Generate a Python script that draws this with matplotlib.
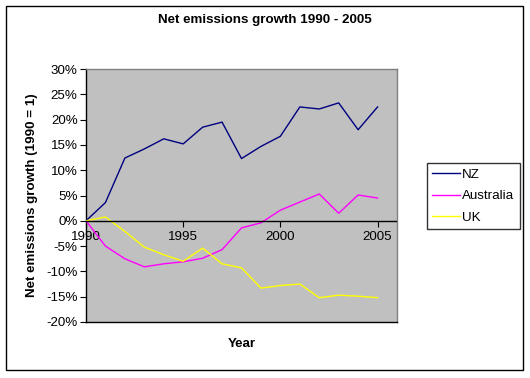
import matplotlib
matplotlib.use('Agg')
import matplotlib.pyplot as plt
from matplotlib.patches import Rectangle
from matplotlib.ticker import FuncFormatter

plt.rcParams['font.family'] = ['Liberation Sans', 'DejaVu Sans']

# Data (growth relative to 1990, in %)
years = [1990, 1991, 1992, 1993, 1994, 1995, 1996, 1997, 1998, 1999,
         2000, 2001, 2002, 2003, 2004, 2005]
nz = [0.0, 3.6, 12.4, 14.2, 16.2, 15.2, 18.5, 19.5, 12.3, 14.7,
      16.7, 22.5, 22.1, 23.3, 18.0, 22.5]
australia = [0.0, -5.0, -7.5, -9.1, -8.5, -8.1, -7.4, -5.7, -1.4, -0.4,
             2.1, 3.7, 5.3, 1.5, 5.1, 4.5]
uk = [0.0, 0.75, -2.1, -5.2, -6.7, -8.0, -5.4, -8.5, -9.3, -13.3,
      -12.8, -12.5, -15.2, -14.7, -14.9, -15.2]
series_names = ['NZ', 'Australia', 'UK']
series_colors = ['#000080', '#FF00FF', '#FFFF00']
year_ticks = [1990, 1995, 2000, 2005]
pct_ticks = [-20, -15, -10, -5, 0, 5, 10, 15, 20, 25, 30]

W, H = 530, 378
fig = plt.figure(figsize=(W / 100, H / 100), dpi=100)
fig.patch.set_facecolor('white')

# plot area in pixels: x 86..397, y 69..322
ax = fig.add_axes([86 / W, 1 - 322 / H, (397 - 86) / W, (322 - 69) / H])
ax.set_facecolor('#C0C0C0')

for vals, name, col in zip([nz, australia, uk], series_names, series_colors):
    ax.plot(years, vals, color=col, lw=1.0, label=name, zorder=3)

ax.set_xlim(1990, 2006)
ax.set_ylim(-20, 30)
ax.set_yticks(pct_ticks)
ax.yaxis.set_major_formatter(FuncFormatter(lambda v, p: f'{v:.0f}%'))
ax.tick_params(axis='y', direction='out', length=4, width=0.8,
               labelsize=9.6, pad=2, colors='black')
ax.set_xticks([])

for s in ['top', 'right']:
    ax.spines[s].set_color('#808080')
ax.spines['left'].set_color('black')
ax.spines['bottom'].set_color('black')
for s in ax.spines.values():
    s.set_linewidth(1.0)

# category axis drawn through zero
ax.axhline(0, color='black', lw=1.0, zorder=4)
sec = ax.secondary_xaxis(0.4)
sec.set_xticks(year_ticks)
sec.set_xticklabels([str(y) for y in year_ticks])
sec.spines['bottom'].set_visible(False)
sec.tick_params(direction='out', length=4, width=0.8, labelsize=9.6, pad=3)

ax.set_ylabel('Net emissions growth (1990 = 1)', fontsize=9.6, fontweight='bold')
ax.yaxis.set_label_coords(-0.155, 0.5)
ax.set_xlabel('Year', fontsize=9.6, fontweight='bold')
ax.xaxis.set_label_coords(0.5, -0.065)

fig.text(265 / W, 1 - 20 / H, 'Net emissions growth 1990 - 2005',
         ha='center', va='center', fontsize=9.6, fontweight='bold')

leg = fig.legend(loc='upper left', bbox_to_anchor=(427 / W, 1 - 163 / H),
                 bbox_transform=fig.transFigure, frameon=True, fancybox=False,
                 edgecolor='black', fontsize=9.6, handlelength=2.1,
                 handletextpad=0.15, labelspacing=0.7, borderpad=0.4,
                 borderaxespad=0)
leg.get_frame().set_linewidth(1.0)

# outer chart border
fig.patches.append(Rectangle((6 / W, 1 - 370 / H), 517 / W, 364 / H,
                             transform=fig.transFigure, fill=False,
                             edgecolor='black', lw=1.0))

fig.savefig('out.png', dpi=100)
